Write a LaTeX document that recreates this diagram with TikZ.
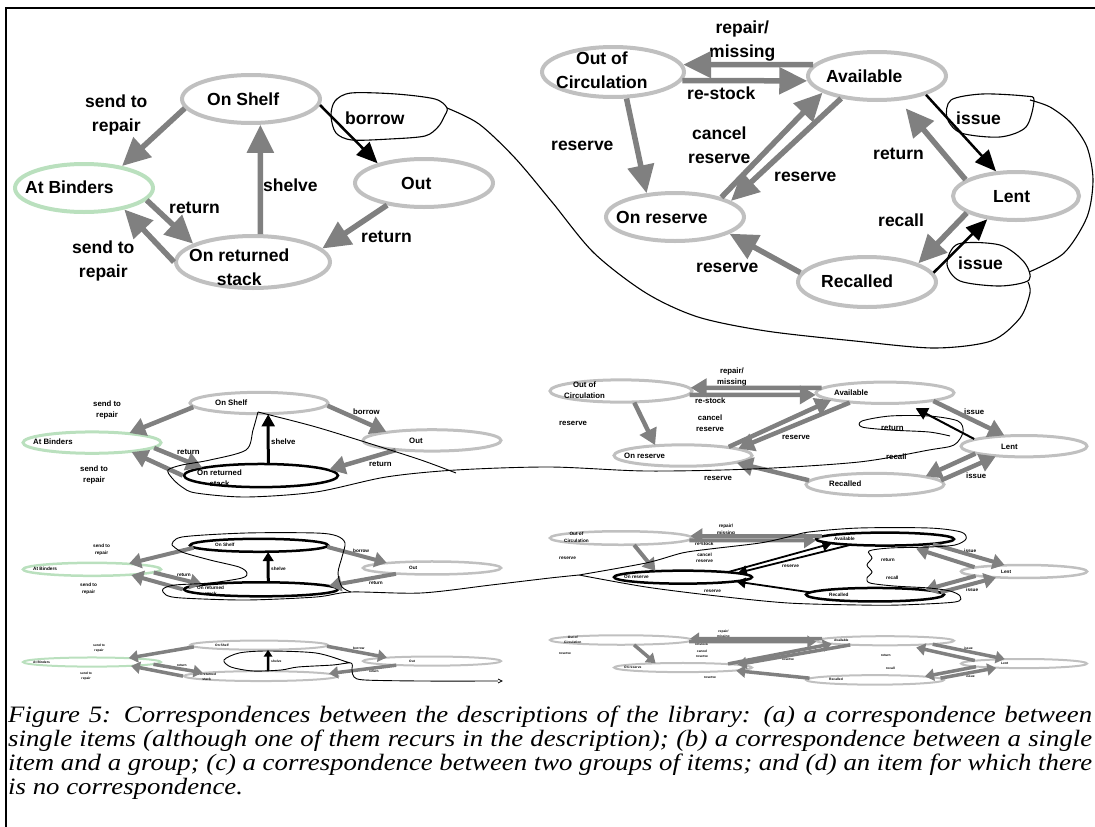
\documentclass[tikz,border=0pt]{standalone}
\usepackage{fontspec}
\usetikzlibrary{shapes.geometric,arrows.meta}
\newfontfamily\lblfont{Liberation Sans}
\newfontfamily\capfont[FakeStretch=1.14]{Liberation Serif}
\definecolor{white}{RGB}{255,255,255}
\definecolor{black}{RGB}{0,0,0}
\definecolor{arr_gray}{RGB}{128,128,128}
\definecolor{state_gray}{RGB}{192,192,192}
\definecolor{binder_green}{RGB}{186,224,190}

\tikzset{
	blob/.style={draw=black,line width=1.1pt},
	capline/.style={anchor=base west,inner sep=0pt,font=\capfont\itshape\fontsize{23.5}{26}\selectfont},
	st-bind/.style={draw=binder_green},
	st-b-ret/.style={hlstate},
	st-c-shelf/.style={hlstate},st-c-ret/.style={hlstate},
	st-c-avail/.style={hlstate},st-c-res/.style={hlstate},st-c-recall/.style={hlstate},
	ar-a-borrow/.style={barrow},ar-a-iss1/.style={barrow},ar-a-iss2/.style={barrow},
	ar-b-shelve/.style={barrow,line width=3pt},ar-b-ret/.style={barrow},
	ar-c-shelve/.style={barrow,line width=3pt},ar-c-cancel/.style={barrow},
	ar-c-ar/.style={barrow},ar-c-rr/.style={barrow},
	ar-d-shelve/.style={barrow,line width=2.5pt},
	sh-ret/.style={shorten >=10pt}
}

\begin{document}
\begin{tikzpicture}[x=1pt,y=-1pt]
	\useasboundingbox (0,0) rectangle (1095,827);
	\draw[line width=2pt] (1095,8) -- (6,8) -- (6,827);

	\foreach \r/\xo/\yo/\k/\fs/\sw/\lw/\hl/\hw/\blw in {a/0/72/1/17.5/4/5.5/28/26/2.5,b/8/391/0.445/7.8/3/4.5/16/18/2,c/8/538/0.27/4.7/2.5/4/12/15/1.8,d/8/640/0.19/3.3/2/3.5/9/12/1.5}
	{
		\pgfmathsetmacro\bs{1.4*\fs}
		\pgfmathsetmacro\bhl{0.75*\hl}
		\pgfmathsetmacro\bhw{0.7*\hw}
		\begin{scope}[shift={(\xo,\yo)},yscale=\k,shift={(0,-72)},
			state/.style={ellipse,draw=state_gray,line width=\sw pt,inner sep=0pt,transform shape},
			hlstate/.style={draw=black,line width=2.5pt},
			lbl/.style={anchor=west,inner sep=0pt,align=center,font=\lblfont\bfseries\fontsize{\fs}{\bs}\selectfont},
			garrow/.style={draw=arr_gray,line width=\lw pt,-{Triangle[length=\hl pt,width=\hw pt]}},
			barrow/.style={draw=black,line width=\blw pt,-{Triangle[length=\bhl pt,width=\bhw pt]}}]
			\foreach \n/\x/\y/\w/\h in {shelf/251/99/138/48,bind/84/188/138/48,out/424/183/138/48,ret/253/262/154/52,circ/613/72/142/50,avail/877/76/138/48,res/675/217/138/48,lent/1016/196/126/48,recall/867/282/138/50}
				\node[state,minimum width=\w pt,minimum height=\h pt,st-\n/.try,st-\r-\n/.try] (\n\r) at (\x,\y) {};

			\foreach \n/\x/\y/\t in {tShelf/207/99/On Shelf,tBind/25/187/At Binders,tOut/401/183/Out,tRet/189/267/{On returned\\stack},lRep1/85/115/{send to\\repair},lRet1/169/208/return,lRep2/72/261/{send to\\repair},lShelve/263/185/shelve,lRet2/361/237/return,lBorrow/345/118/borrow,tCirc/556/70/{Out of\\Circulation},tAvail/826/76/Available,tRes/616/217/On reserve,tLent/993/197/Lent,tRecall/821/281/Recalled,lMiss/709/41/{repair/\\missing},lStock/687/93/re-stock,lRes1/551/146/reserve,lCancel/688/145/{cancel\\reserve},lRes2/774/177/reserve,lRet3/873/154/return,lIss1/956/118/issue,lRecall/878/220/recall,lIss2/958/263/issue,lRes3/696/268/reserve}
				\node[lbl] (\n\r) at (\x,\y) {\t};

			\foreach \n/\a/\p/\b/\q in {sb/shelf/188/bind/30,br/bind/349/ret/163,rb/ret/180/bind/332,shelve/ret/75/shelf/290,or/out/211/ret/11,borrow/shelf/355/out/157,miss/avail/170/circ/6,stock/circ/353/avail/184,cr/circ/297/res/140,cancel/res/23/avail/197,ar/avail/212/res/16,ret/lent/162/avail/312,iss1/avail/339/lent/129,recall/lent/199/recall/20,iss2/recall/8/lent/219,rr/recall/172/res/343}
				\draw[garrow,sh-\n/.try,ar-\r-\n/.try] (\a\r.\p) -- (\b\r.\q);
		\end{scope}
	}

	\draw[blob] plot[smooth cycle] coordinates {(447,108) (435,99) (396,94) (351,93) (335,101) (331,116) (336,133) (352,140) (390,139) (425,136) (438,127) (444,117)};
	\draw[blob] plot[smooth] coordinates {(447,108) (479,124) (515,158) (552,202) (594,253) (646,293) (698,317) (766,331) (855,341) (934,348) (991,341) (1020,318) (1030,293) (1028,282)};
	\draw[blob] plot[smooth cycle] coordinates {(958,244) (1000,245) (1024,262) (1029,280) (1000,286) (960,281) (947,264)};
	\draw[blob] plot[smooth] coordinates {(1029,272) (1064,253) (1087,217) (1093,180) (1087,147) (1071,123) (1050,107) (1030,100)};
	\draw[blob] plot[smooth cycle] coordinates {(951,100) (982,94) (1025,96) (1034,100) (1026,127) (1000,137) (961,133) (947,118)};

	\draw[blob,line width=0.9pt] plot[smooth] coordinates {(258,412) (270,415) (316,427) (368,443) (421,460) (456,473)};
	\draw[blob,line width=0.9pt] plot[smooth] coordinates {(258,412) (253,430) (246,450) (210,460) (182,465) (168,470) (172,478) (182,487) (196,493) (246,497) (316,492) (386,477) (456,470) (550,467) (646,471) (752,469) (859,462) (929,450) (954,445) (963,432) (958,421) (929,416) (890,416) (862,421) (862,427) (890,430) (929,432) (950,436)};

	\draw[blob,line width=0.9pt] plot[smooth] coordinates {(172,545) (182,537) (246,533) (316,533) (337,536) (345,543) (342,557) (338,573) (342,587) (351,592)};
	\draw[blob,line width=0.9pt] plot[smooth] coordinates {(172,545) (182,552) (210,560) (239,567) (247,573) (242,578) (210,583) (175,585) (163,589) (166,595) (182,598) (246,600) (316,597) (351,592) (421,593) (491,585) (550,578) (579,575)};
	\draw[blob,line width=0.9pt] plot[smooth] coordinates {(579,575) (646,563) (682,553) (710,549) (760,543) (788,537) (809,532) (859,528) (929,528) (961,532) (966,539) (955,545) (929,547) (890,548) (869,551) (872,558) (867,565) (872,572) (867,578) (870,583) (894,586) (929,588) (950,591) (960,596) (955,602) (900,605) (859,605) (788,603) (717,596) (646,587) (579,575)};

	\draw[blob,line width=0.9pt] plot[smooth] coordinates {(351,663) (347,662) (316,653) (267,651) (239,653) (224,660) (231,667) (253,671) (281,670) (298,667) (333,665) (351,663) (352,670) (354,677) (365,680) (421,681) (498,681)};
	\draw[blob,line width=0.7pt] (498,679) -- (502,681) -- (498,683);

	\node[capline] (cap1) at (8,722) {\makebox[1084pt][s]{Figure 5: Correspondences between the descriptions of the library: (a) a correspondence between}};
	\node[capline] (cap2) at (8,746) {\makebox[1084pt][s]{single items (although one of them recurs in the description); (b) a correspondence between a single}};
	\node[capline] (cap3) at (8,770) {\makebox[1084pt][s]{item and a group; (c) a correspondence between two groups of items; and (d) an item for which there}};
	\node[capline] (cap4) at (8,794) {is no correspondence.};
\end{tikzpicture}
\end{document}
